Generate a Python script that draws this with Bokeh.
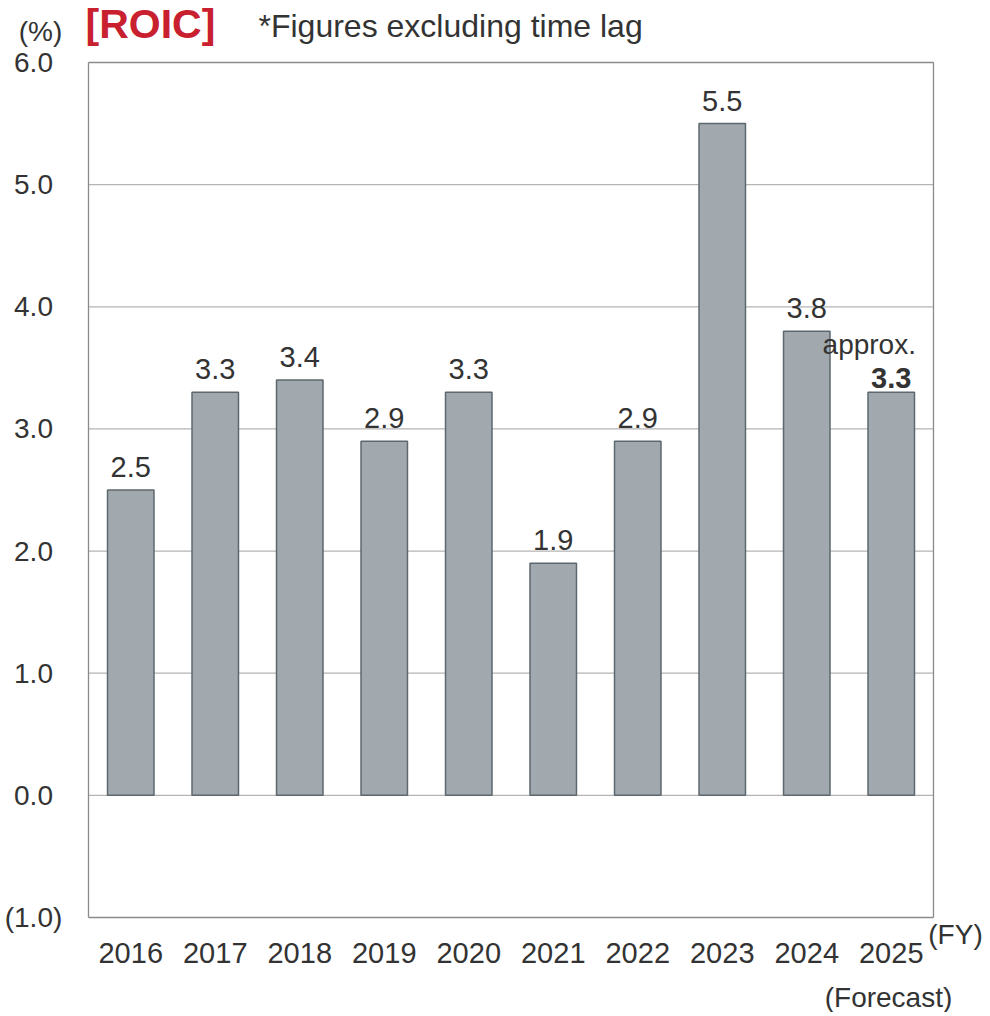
from bokeh.plotting import figure
from bokeh.models import ColumnDataSource, Range1d
from bokeh.core.properties import value
from bokeh.embed import file_html
from bokeh.resources import INLINE

# ---- data ----
years = ["2016", "2017", "2018", "2019", "2020", "2021", "2022", "2023", "2024", "2025"]
roic = [2.5, 3.3, 3.4, 2.9, 3.3, 1.9, 2.9, 5.5, 3.8, 3.3]
value_labels = ["2.5", "3.3", "3.4", "2.9", "3.3", "1.9", "2.9", "5.5", "3.8", "3.3"]
y_ticks = [-1, 0, 1, 2, 3, 4, 5, 6]
y_tick_labels = ["(1.0)", "0.0", "1.0", "2.0", "3.0", "4.0", "5.0", "6.0"]
grid_values = [0, 1, 2, 3, 4, 5]
title_text = "[ROIC]"
subtitle_text = "*Figures excluding time lag"
unit_text = "(%)"
fy_text = "(FY)"
forecast_text = "(Forecast)"
approx_text = "approx."

# ---- layout (pixels) ----
W, H = 985, 1012
FL, FT, FR, FB = 88, 62, 933, 917          # plot box edges
YMIN, YMAX = -1, 6
NCAT = len(years)
XS = (FR - FL) / NCAT
YS = (FB - FT) / (YMAX - YMIN)

def dx(px):
    return (px - FL) / XS

def dy(py):
    return YMAX - (py - FT) / YS

FONT = value("Liberation Sans")
TXT = "#333333"

p = figure(width=W, height=H, x_range=Range1d(dx(0), dx(W)), y_range=Range1d(dy(H), dy(0)),
           x_axis_type=None, y_axis_type=None, output_backend="svg", toolbar_location=None,
           min_border=0, min_border_left=0, min_border_right=0, min_border_top=0, min_border_bottom=0)
p.outline_line_color = None
p.xgrid.visible = False
p.ygrid.visible = False
p.background_fill_color = "white"
p.border_fill_color = "white"

xc = [i + 0.5 for i in range(NCAT)]

# grid lines
p.segment(x0=[0] * len(grid_values), x1=[NCAT] * len(grid_values), y0=grid_values, y1=grid_values,
          line_color="#b4b4b4", line_width=1.2)
# plot box
p.segment(x0=[0, 0, 0, NCAT], x1=[NCAT, NCAT, 0, NCAT], y0=[YMIN, YMAX, YMIN, YMIN],
          y1=[YMIN, YMAX, YMAX, YMAX], line_color="#8a8a8a", line_width=1.3)

src = ColumnDataSource(dict(x=xc, top=roic, lab=value_labels, year=years))
p.vbar(x="x", top="top", bottom=0, width=0.55, source=src,
       fill_color="#a1a9ae", line_color="#5d686e", line_width=1.5)

n = NCAT - 1
lsrc = ColumnDataSource(dict(x=xc[:n], y=roic[:n], lab=value_labels[:n]))
p.text(x="x", y="y", text="lab", source=lsrc, text_align="center", text_baseline="middle",
       y_offset=-23, text_font=FONT, text_font_size="29px", text_color=TXT)

fsrc = ColumnDataSource(dict(x=xc[n:], y=roic[n:], lab=value_labels[n:], ap=[approx_text]))
p.text(x="x", y="y", text="lab", source=fsrc, text_align="center", text_baseline="middle",
       y_offset=-14, text_font=FONT, text_font_size="29px", text_font_style="bold", text_color=TXT)
p.text(x="x", y="y", text="ap", source=fsrc, text_align="center", text_baseline="middle",
       x_offset=-22, y_offset=-48, text_font=FONT, text_font_size="28px", text_color=TXT)

# x tick labels
p.text(x="x", y=YMIN, text="year", source=src, text_align="center", text_baseline="middle",
       y_offset=35, text_font=FONT, text_font_size="29px", text_color=TXT)

# y tick labels
ysrc = ColumnDataSource(dict(y=y_ticks, lab=y_tick_labels))
p.text(x=dx(33), y="y", text="lab", source=ysrc, text_align="center", text_baseline="middle",
       text_font=FONT, text_font_size="28px", text_color=TXT)

def note(px, py, txt, size="28px", align="center", color=TXT, style="normal"):
    p.text(x=[dx(px)], y=[dy(py)], text=[txt], text_align=align, text_baseline="middle",
           text_font=FONT, text_font_size=size, text_font_style=style, text_color=color)

note(40, 31, unit_text)
note(85, 23, title_text, size="41px", align="left", color="#c8202e", style="bold")
note(258, 25, subtitle_text, size="32px", align="left")
note(955, 934, fy_text)
note(888, 997, forecast_text)

open("out.html", "w").write(file_html(p, INLINE))
